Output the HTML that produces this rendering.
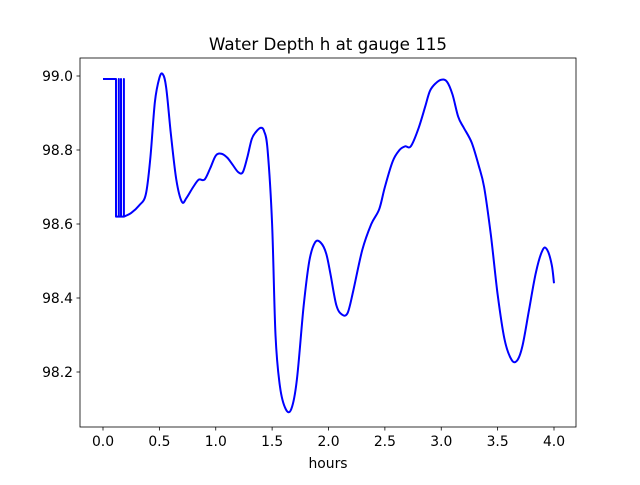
<!DOCTYPE html>
<html><head><meta charset="utf-8"><style>
body{margin:0;background:#fff;}
svg text{font-family:"DejaVu Sans","Liberation Sans",sans-serif;}
</style></head><body>
<svg id="chart" width="640" height="480" xmlns="http://www.w3.org/2000/svg">
<rect width="640" height="480" fill="#fff"/>
<text x="328" y="50" font-size="16.7" text-anchor="middle">Water Depth h at gauge 115</text>
<g id="ticks"></g>
<path id="line" fill="none" stroke="#0000ff" stroke-width="2" stroke-linejoin="round"/>
<rect x="80" y="58" width="496" height="369" fill="none" stroke="#000" stroke-width="0.8"/>
<text x="328" y="468" font-size="13.9" text-anchor="middle">hours</text>
</svg>
<script>
const hours=[0,0.115,0.115,0.14,0.14,0.14,0.16,0.16,0.16,0.185,0.185,0.185,0.25,0.32,0.38,0.42,0.46,0.5,0.53,0.56,0.6,0.65,0.7,0.74,0.8,0.85,0.9,0.95,1.0,1.05,1.1,1.15,1.2,1.24,1.28,1.32,1.36,1.4,1.43,1.46,1.5,1.53,1.57,1.62,1.67,1.72,1.78,1.83,1.88,1.93,1.98,2.02,2.07,2.12,2.17,2.22,2.3,2.38,2.45,2.5,2.57,2.63,2.68,2.73,2.8,2.86,2.9,2.95,3.0,3.05,3.1,3.15,3.2,3.27,3.33,3.38,3.44,3.5,3.56,3.62,3.67,3.72,3.78,3.84,3.9,3.94,3.98,4.0];
const depth=[98.992,98.992,98.62,98.62,98.992,98.62,98.62,98.992,98.62,98.62,98.992,98.62,98.63,98.65,98.68,98.78,98.93,98.995,99.005,98.97,98.85,98.72,98.66,98.67,98.7,98.72,98.72,98.75,98.785,98.79,98.78,98.76,98.74,98.74,98.78,98.83,98.85,98.86,98.85,98.8,98.6,98.3,98.16,98.1,98.1,98.18,98.38,98.5,98.55,98.55,98.52,98.46,98.38,98.355,98.36,98.42,98.53,98.6,98.64,98.7,98.77,98.8,98.81,98.81,98.86,98.92,98.96,98.98,98.99,98.985,98.95,98.89,98.86,98.82,98.76,98.7,98.57,98.41,98.29,98.235,98.23,98.27,98.37,98.47,98.53,98.53,98.49,98.44];
const xTicks=[0,0.5,1,1.5,2,2.5,3,3.5,4];
const xTickLabels=["0.0","0.5","1.0","1.5","2.0","2.5","3.0","3.5","4.0"];
const yTicks=[98.2,98.4,98.6,98.8,99.0];
const yTickLabels=["98.2","98.4","98.6","98.8","99.0"];
const X=t=>103+t*112.75;
const Y=h=>76+(99-h)*370;
const NS="http://www.w3.org/2000/svg";
const g=document.getElementById('ticks');
function mk(tag,attrs,txt){const e=document.createElementNS(NS,tag);for(const k in attrs)e.setAttribute(k,attrs[k]);if(txt)e.textContent=txt;g.appendChild(e);return e;}
xTicks.forEach((t,i)=>{
 const l=mk('line',{x1:X(t),x2:X(t),y1:427,y2:430.5,stroke:'#000','stroke-width':0.8});
 
 
 const tx=mk('text',{x:X(t),y:446,'font-size':13.9,'text-anchor':'middle'},xTickLabels[i]);
 
 
});
yTicks.forEach((h,i)=>{
 const l=mk('line',{x1:76.5,x2:80,y1:Y(h),y2:Y(h),stroke:'#000','stroke-width':0.8});
 
 
 const tx=mk('text',{x:73,y:Y(h)+5,'font-size':13.9,'text-anchor':'end'},yTickLabels[i]);
 
 
});
// straight segments for the spike region, Catmull-Rom smoothing afterwards
const px=hours.map(X), py=depth.map(Y);
const S=11;
let d='';
for(let i=0;i<=S;i++) d+=(i?'L':'M')+px[i].toFixed(1)+','+py[i].toFixed(1);
for(let i=S;i<px.length-1;i++){
 const i0=Math.max(S,i-1), i3=Math.min(px.length-1,i+2);
 const c1x=px[i]+(px[i+1]-px[i0])/6, c1y=py[i]+(py[i+1]-py[i0])/6;
 const c2x=px[i+1]-(px[i3]-px[i])/6, c2y=py[i+1]-(py[i3]-py[i])/6;
 d+='C'+c1x.toFixed(1)+','+c1y.toFixed(1)+' '+c2x.toFixed(1)+','+c2y.toFixed(1)+' '+px[i+1].toFixed(1)+','+py[i+1].toFixed(1);
}
document.getElementById('line').setAttribute('d',d);
</script>
</body></html>
